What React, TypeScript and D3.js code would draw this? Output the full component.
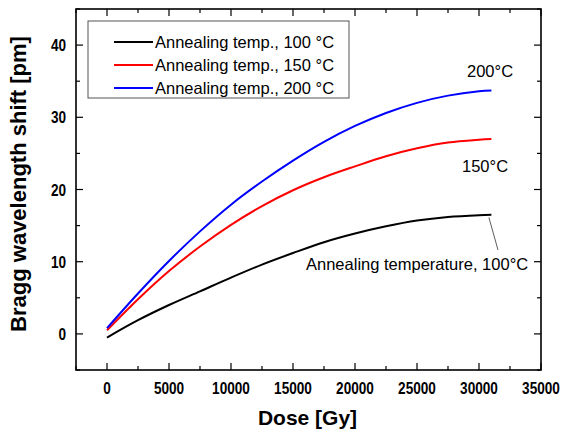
import React from "react";
import * as d3 from "d3";

const dose = [0, 2500, 5000, 7500, 10000, 12500, 15000, 17500, 20000, 22500, 25000, 27500, 30000, 31000];
const shift100 = [-0.5, 1.9, 4.0, 5.9, 7.8, 9.6, 11.2, 12.7, 13.9, 14.9, 15.7, 16.2, 16.45, 16.5];
const shift150 = [0.5, 4.8, 8.7, 12.1, 15.1, 17.7, 19.9, 21.7, 23.2, 24.6, 25.7, 26.5, 26.9, 27.0];
const shift200 = [0.8, 5.6, 10.1, 14.2, 17.9, 21.1, 24.0, 26.6, 28.8, 30.6, 32.0, 33.0, 33.6, 33.7];

const seriesNames = ["Annealing temp., 100 \u00b0C", "Annealing temp., 150 \u00b0C", "Annealing temp., 200 \u00b0C"];
const seriesColors = ["#000000", "#ff0000", "#0000ff"];
const xTicks = [0, 5000, 10000, 15000, 20000, 25000, 30000, 35000];
const yTicks = [0, 10, 20, 30, 40];

const W = 562, H = 432;
const FONT = "'Liberation Sans', Arial, sans-serif";

export default function App() {
  const x = d3.scaleLinear().domain([-2500, 35000]).range([76, 541]);
  const y = d3.scaleLinear().domain([-5, 45]).range([370, 9]);
  const [x0, x1] = x.range();
  const [y0, y1] = y.range();

  const line = d3.line<[number, number]>()
    .x(d => x(d[0]))
    .y(d => y(d[1]))
    .curve(d3.curveCatmullRom.alpha(0.5));

  const all = [shift100, shift150, shift200];
  const xMinor = d3.range(-2500, 35001, 2500).filter(v => v % 5000 !== 0);
  const yMinor = d3.range(-5, 46, 5).filter(v => v % 10 !== 0);

  return (
    <svg width={W} height={H} style={{ position: "absolute", left: 0, top: 0, background: "#fff" }}>
      {/* ticks, all inward */}
      <g stroke="#000" strokeWidth={1.2}>
        {xTicks.map(v => (
          <g key={"xt" + v}>
            <line x1={x(v)} x2={x(v)} y1={y0} y2={y0 - 7} />
            <line x1={x(v)} x2={x(v)} y1={y1} y2={y1 + 7} />
          </g>
        ))}
        {xMinor.map(v => (
          <g key={"xm" + v}>
            <line x1={x(v)} x2={x(v)} y1={y0} y2={y0 - 4} />
            <line x1={x(v)} x2={x(v)} y1={y1} y2={y1 + 4} />
          </g>
        ))}
        {yTicks.map(v => (
          <g key={"yt" + v}>
            <line x1={x0} x2={x0 + 7} y1={y(v)} y2={y(v)} />
            <line x1={x1} x2={x1 - 7} y1={y(v)} y2={y(v)} />
          </g>
        ))}
        {yMinor.map(v => (
          <g key={"ym" + v}>
            <line x1={x0} x2={x0 + 4} y1={y(v)} y2={y(v)} />
            <line x1={x1} x2={x1 - 4} y1={y(v)} y2={y(v)} />
          </g>
        ))}
      </g>

      {/* curves */}
      {all.map((s, i) => (
        <path key={i} d={line(dose.map((d, j) => [d, s[j]]) as [number, number][]) || ""}
          fill="none" stroke={seriesColors[i]} strokeWidth={2} />
      ))}

      {/* frame */}
      <rect x={x0} y={y1} width={x1 - x0} height={y0 - y1} fill="none" stroke="#000" strokeWidth={1.6} />

      {/* tick labels (narrow bold digits) */}
      <g fontFamily={FONT} fontWeight="bold" fontSize={17} fill="#000">
        {xTicks.map(v => (
          <text key={"xl" + v} transform={`translate(${x(v)},394) scale(0.8,1)`} textAnchor="middle">{v}</text>
        ))}
        {yTicks.map(v => (
          <text key={"yl" + v} transform={`translate(66,${y(v) + 6}) scale(0.8,1)`} textAnchor="end">{v}</text>
        ))}
      </g>

      {/* axis titles */}
      <text x={(x0 + x1) / 2 - 1} y={425} textAnchor="middle" fontFamily={FONT} fontWeight="bold" fontSize={21}>Dose [Gy]</text>
      <text transform="translate(26,184) rotate(-90)" textAnchor="middle"
        fontFamily={FONT} fontWeight="bold" fontSize={22}>Bragg wavelength shift [pm]</text>

      {/* legend */}
      <rect x={88} y={21} width={261} height={77} fill="#fff" stroke="#555" strokeWidth={1} />
      {seriesNames.map((n, i) => (
        <g key={n}>
          <line x1={114} x2={153} y1={42 + i * 23} y2={42 + i * 23} stroke={seriesColors[i]} strokeWidth={2} />
          <text x={155} y={48 + i * 23} fontFamily={FONT} fontSize={16.5}>{n}</text>
        </g>
      ))}

      {/* annotations */}
      <g fontFamily={FONT} fontSize={16.5}>
        <text x={467} y={77}>200°C</text>
        <text x={462} y={172}>150°C</text>
        <text x={306} y={270}>Annealing temperature, 100°C</text>
      </g>
      <line x1={x(30800)} y1={y(16.4) + 2} x2={498} y2={250} stroke="#333" strokeWidth={0.8} />
    </svg>
  );
}
